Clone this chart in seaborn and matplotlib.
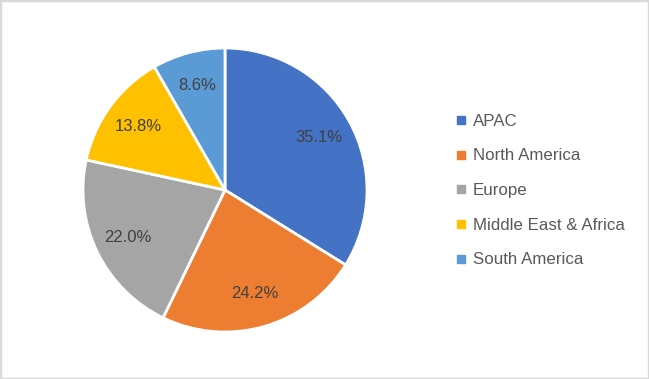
import matplotlib
matplotlib.use("Agg")
import matplotlib.pyplot as plt
from matplotlib.lines import Line2D
from matplotlib.patches import Rectangle
import seaborn as sns

regions = ["APAC", "North America", "Europe", "Middle East & Africa", "South America"]
shares = [35.1, 24.2, 22.0, 13.8, 8.6]
colors = ["#4472C4", "#ED7D31", "#A5A5A5", "#FFC000", "#5B9BD5"]

sns.set_theme(style="white")
plt.rcParams["font.family"] = ["Liberation Sans", "DejaVu Sans"]
palette = sns.color_palette(colors)

fig = plt.figure(figsize=(6.49, 3.79), dpi=100)
ax = fig.add_axes([83 / 649, 47 / 379, 284 / 649, 284 / 379])

# labels show the source values (they add up to 103.7, pie normalises)
total = sum(shares)
wedges, texts, autotexts = ax.pie(
    shares, colors=palette, startangle=90, counterclock=False,
    autopct=lambda p: f"{p * total / 100:.1f}%", pctdistance=0.76, radius=1,
    wedgeprops=dict(edgecolor="white", linewidth=2),
    textprops=dict(color="#404040", fontsize=12),
)
ax.set_xlim(-1.0, 1.0)
ax.set_ylim(-1.0, 1.0)
ax.set_aspect("equal")
ax.axis("off")

handles = [Line2D([], [], marker="s", linestyle="", markersize=6,
                  markerfacecolor=c, markeredgecolor=c) for c in palette]
fig.legend(handles, regions, loc="center left", bbox_to_anchor=(440 / 649, 0.497),
           frameon=False, fontsize=12.2, labelcolor="#595959",
           labelspacing=1.16, handlelength=0.7, handletextpad=0.35)

fig.patches.append(Rectangle((0, 0), 1, 1, transform=fig.transFigure,
                             fill=False, edgecolor="#D9D9D9", linewidth=2.5))

fig.savefig("out.png", dpi=100)
